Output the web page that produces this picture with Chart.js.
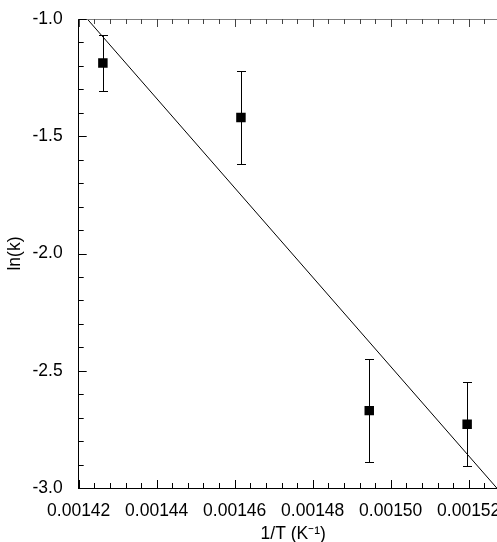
<!DOCTYPE html>
<html>
<head>
<meta charset="utf-8">
<script src="https://cdn.jsdelivr.net/npm/chart.js@4"></script>
<style>
  html, body { margin: 0; padding: 0; background: #fff; overflow: hidden; }
  #wrap { width: 540px; height: 542px; }
</style>
</head>
<body>
<div id="wrap"><canvas id="chart"></canvas></div>
<script>
// ─── Datos ───────────────────────────────────────────────────────────────────
const invT   = [0.0014262, 0.0014616, 0.0014945, 0.0015196];
const lnK    = [-1.188, -1.420, -2.670, -2.728];
const lnKErr = [0.12, 0.20, 0.22, 0.18];

// recta de ajuste (extremos)
const fitX = [0.0014222, 0.0015272];
const fitY = [-1.0, -3.0];

const xTicks = [0.00142, 0.00144, 0.00146, 0.00148, 0.00150, 0.00152];
const yTicks = [-3.0, -2.5, -2.0, -1.5, -1.0];
const X_MIN = 0.00142, X_MAX = 0.00153, X_MINOR = 0.000004;
const Y_MIN = -3.0, Y_MAX = -1.0, Y_MINOR = 0.1;

const FONT = '"Liberation Sans", Arial, sans-serif';

// ─── Barras de error ─────────────────────────────────────────────────────────
const errorBars = {
  id: 'errorBars',
  beforeDatasetsDraw(chart) {
    const { ctx, scales: { x, y } } = chart;
    ctx.save();
    ctx.strokeStyle = '#000';
    ctx.lineWidth = 1;
    invT.forEach((v, i) => {
      const px = Math.round(x.getPixelForValue(v)) + 0.5;
      const top = Math.round(y.getPixelForValue(lnK[i] + lnKErr[i])) + 0.5;
      const bot = Math.round(y.getPixelForValue(lnK[i] - lnKErr[i])) + 0.5;
      ctx.beginPath();
      ctx.moveTo(px, top); ctx.lineTo(px, bot);
      ctx.moveTo(px - 4.5, top); ctx.lineTo(px + 4.5, top);
      ctx.moveTo(px - 4.5, bot); ctx.lineTo(px + 4.5, bot);
      ctx.stroke();
    });
    ctx.restore();
  },
};

// ─── Marcas hacia dentro + borde superior ────────────────────────────────────
const innerTicks = {
  id: 'innerTicks',
  afterDraw(chart) {
    const { ctx, chartArea: a, scales: { x, y } } = chart;
    ctx.save();
    ctx.lineWidth = 1;
    // borde superior (gris)
    ctx.strokeStyle = '#808080';
    ctx.beginPath();
    ctx.moveTo(a.left, Math.round(a.top) + 0.5);
    ctx.lineTo(a.right, Math.round(a.top) + 0.5);
    ctx.stroke();

    const nx = Math.round((X_MAX - X_MIN) / X_MINOR);
    for (let i = 0; i <= nx; i++) {
      const px = Math.round(x.getPixelForValue(X_MIN + i * X_MINOR)) + 0.5;
      const len = i % 5 === 0 ? 8 : 5;
      ctx.strokeStyle = '#000';
      ctx.beginPath();
      ctx.moveTo(px, a.bottom); ctx.lineTo(px, a.bottom - len);
      ctx.stroke();
      ctx.strokeStyle = '#444';
      ctx.beginPath();
      ctx.moveTo(px, a.top); ctx.lineTo(px, a.top + len);
      ctx.stroke();
    }
    const ny = Math.round((Y_MAX - Y_MIN) / Y_MINOR);
    ctx.strokeStyle = '#000';
    for (let i = 0; i <= ny; i++) {
      const py = Math.round(y.getPixelForValue(Y_MIN + i * Y_MINOR)) + 0.5;
      const len = i % 5 === 0 ? 8 : 5;
      ctx.beginPath();
      ctx.moveTo(a.left, py); ctx.lineTo(a.left + len, py);
      ctx.stroke();
    }
    ctx.restore();
  },
};

new Chart(document.getElementById('chart'), {
  type: 'scatter',
  data: {
    datasets: [
      {
        label: 'ajuste',
        type: 'line',
        data: fitX.map((v, i) => ({ x: v, y: fitY[i] })),
        borderColor: '#000', borderWidth: 1, pointRadius: 0, fill: false,
      },
      {
        label: 'ln(k)',
        data: invT.map((v, i) => ({ x: v, y: lnK[i] })),
        pointStyle: 'rect', pointRadius: 6.7, pointBorderWidth: 0,
        backgroundColor: '#000', borderColor: '#000',
      },
    ],
  },
  options: {
    responsive: true, maintainAspectRatio: false, animation: false,
    layout: { padding: { left: 0, top: 19, right: 32.3, bottom: 0 } },
    plugins: { legend: { display: false }, tooltip: { enabled: false } },
    scales: {
      x: {
        type: 'linear', min: X_MIN, max: X_MAX,
        afterBuildTicks: s => { s.ticks = xTicks.map(v => ({ value: v })); },
        afterFit: s => { s.height = 54; },
        grid: { display: false },
        border: { display: true, color: '#000', width: 1 },
        ticks: { color: '#000', padding: 5, maxRotation: 0, autoSkip: false,
                 font: { family: FONT, size: 17.5 }, callback: v => v.toFixed(5) },
        title: { display: true, text: '1/T (K⁻¹)', color: '#000',
                 font: { family: FONT, size: 17.5 }, padding: { top: 0, bottom: -2.5 } },
      },
      y: {
        type: 'linear', min: Y_MIN, max: Y_MAX,
        afterBuildTicks: s => { s.ticks = yTicks.map(v => ({ value: v })); },
        afterFit: s => { s.width = 78.7; },
        grid: { display: false },
        border: { display: true, color: '#000', width: 1 },
        ticks: { color: '#000', padding: 8,
                 font: { family: FONT, size: 17.5 }, callback: v => v.toFixed(1) },
        title: { display: true, text: 'ln(k)', color: '#000',
                 font: { family: FONT, size: 17.5 }, padding: { top: 4.5, bottom: 0 } },
      },
    },
  },
  plugins: [errorBars, innerTicks],
});
</script>
</body>
</html>
